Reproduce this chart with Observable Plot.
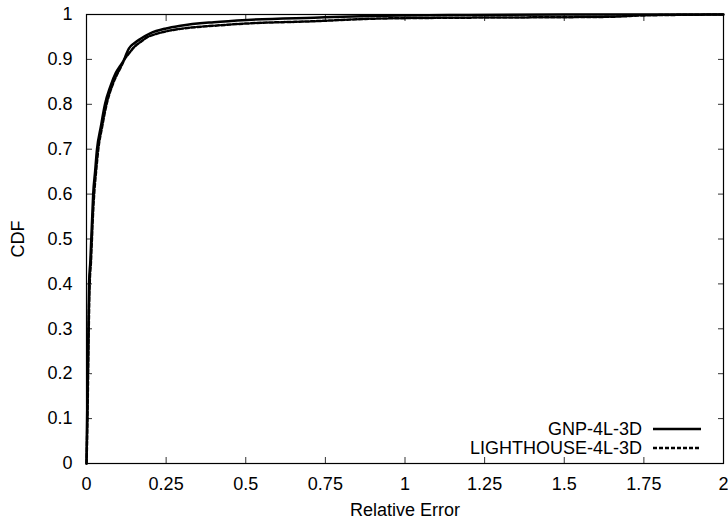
<!DOCTYPE html>
<html><head><meta charset="utf-8">
<script src="https://cdn.jsdelivr.net/npm/d3@7"></script>
<script src="https://cdn.jsdelivr.net/npm/@observablehq/plot@0.6"></script>
<style>body{margin:0;background:#fff;} svg{display:block}</style>
</head><body><div id="chart"></div>
<script>
const seriesNames = ["GNP-4L-3D", "LIGHTHOUSE-4L-3D"];
const gnpX = [0, 0.002, 0.004, 0.006, 0.008, 0.012, 0.015, 0.018, 0.021, 0.027, 0.033, 0.045, 0.058, 0.075, 0.092, 0.105, 0.117, 0.125, 0.133, 0.15, 0.17, 0.20, 0.25, 0.295, 0.40, 0.505, 0.714, 0.92, 1.2, 1.5, 2];
const gnpY = [0, 0.1, 0.2, 0.3, 0.4, 0.45, 0.5, 0.55, 0.6, 0.65, 0.7, 0.75, 0.8, 0.84, 0.87, 0.885, 0.898, 0.912, 0.924, 0.936, 0.946, 0.958, 0.969, 0.975, 0.983, 0.988, 0.993, 0.997, 0.999, 1.0, 1.0];
const lhX = [0, 0.003, 0.005, 0.007, 0.010, 0.014, 0.017, 0.020, 0.024, 0.030, 0.037, 0.049, 0.063, 0.080, 0.097, 0.11, 0.12, 0.133, 0.149, 0.17, 0.19, 0.22, 0.253, 0.295, 0.40, 0.505, 0.714, 0.92, 1.2, 1.5, 1.65, 1.75, 2];
const lhY = [0, 0.1, 0.2, 0.3, 0.4, 0.45, 0.5, 0.55, 0.6, 0.65, 0.7, 0.75, 0.8, 0.84, 0.868, 0.886, 0.901, 0.913, 0.927, 0.939, 0.949, 0.957, 0.963, 0.968, 0.975, 0.98, 0.985, 0.991, 0.993, 0.994, 0.995, 0.998, 1.0];
const xTickValues = [0, 0.25, 0.5, 0.75, 1, 1.25, 1.5, 1.75, 2];
const yTickValues = [0, 0.1, 0.2, 0.3, 0.4, 0.5, 0.6, 0.7, 0.8, 0.9, 1];

const gnp = gnpX.map((x, i) => ({x, y: gnpY[i]}));
const lh = lhX.map((x, i) => ({x, y: lhY[i]}));
const fmt = d => String(+(+d).toFixed(2));
const tickStroke = "#333";

const plot = Plot.plot({
  width: 728, height: 518,
  marginTop: 14, marginRight: 5, marginBottom: 55, marginLeft: 86,
  style: {fontFamily: "'Liberation Sans', Arial, Helvetica, sans-serif", fontSize: "18px", background: "white", color: "black"},
  x: {domain: [0, 2]},
  y: {domain: [0, 1]},
  marks: [
    Plot.axisX(xTickValues, {anchor: "bottom", tickSize: -6, fill: "none", stroke: tickStroke, label: null}),
    Plot.axisX(xTickValues, {anchor: "top", tickSize: -6, fill: "none", stroke: tickStroke, label: null}),
    Plot.axisY(yTickValues, {anchor: "left", tickSize: -6, fill: "none", stroke: tickStroke, label: null}),
    Plot.axisY(yTickValues, {anchor: "right", tickSize: -6, fill: "none", stroke: tickStroke, label: null}),
    Plot.axisX(xTickValues, {anchor: "bottom", tickSize: 0, tickPadding: 14, tickFormat: fmt, label: "Relative Error", labelAnchor: "center", labelArrow: "none", labelOffset: 52}),
    Plot.axisY(yTickValues, {anchor: "left", tickSize: 0, tickPadding: 14, tickFormat: fmt, label: "CDF", labelAnchor: "center", labelArrow: "none", labelOffset: 75}),
    Plot.line(lh, {x: "x", y: "y", stroke: "black", strokeWidth: 2.5, strokeDasharray: "4,2", curve: "monotone-x"}),
    Plot.line(gnp, {x: "x", y: "y", stroke: "black", strokeWidth: 2.5, curve: "monotone-x"}),
    Plot.frame({stroke: "black", strokeWidth: 1.2})
  ]
});
document.getElementById("chart").appendChild(plot);

// legend (inside bottom-right)
const svg = d3.select(plot);
const legend = svg.append("g").attr("font-family", "'Liberation Sans', Arial, Helvetica, sans-serif").attr("font-size", "18px");
const legendRows = [{name: seriesNames[0], dash: null, y: 429}, {name: seriesNames[1], dash: "4,2", y: 448}];
legendRows.forEach(r => {
  legend.append("text").attr("x", 642).attr("y", r.y).attr("dy", "0.35em").attr("text-anchor", "end").attr("fill", "black").text(r.name);
  const l = legend.append("line").attr("x1", 653).attr("x2", 701).attr("y1", r.y).attr("y2", r.y).attr("stroke", "black").attr("stroke-width", 2.5);
  if (r.dash) l.attr("stroke-dasharray", r.dash);
});
</script></body></html>
